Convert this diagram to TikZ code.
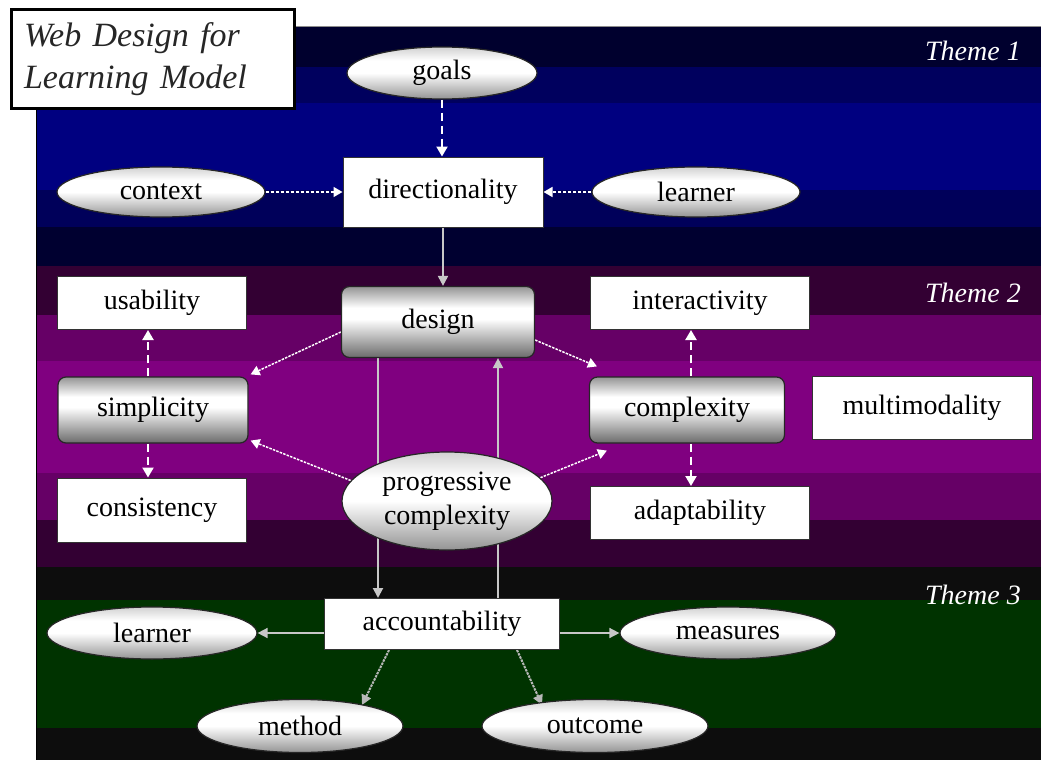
\documentclass[tikz,border=0pt]{standalone}
\usepackage{fontspec}
\setmainfont{Liberation Serif}
\usetikzlibrary{arrows.meta,shapes.geometric}
\pgfdeclarelayer{bg}
\pgfdeclarelayer{conn}
\pgfsetlayers{bg,conn,main}
\definecolor{tA}{HTML}{00002E}
\definecolor{tB}{HTML}{00005E}
\definecolor{tC}{HTML}{000080}
\definecolor{tD}{HTML}{00005A}
\definecolor{tE}{HTML}{000030}
\definecolor{pA}{HTML}{330033}
\definecolor{pB}{HTML}{660066}
\definecolor{pC}{HTML}{800080}
\definecolor{gA}{HTML}{0D0D0D}
\definecolor{gB}{HTML}{003300}
\pgfdeclareverticalshading{boxshade}{100bp}{color(0bp)=(black!58); color(25bp)=(black!58); color(52bp)=(white); color(60bp)=(white); color(75bp)=(black!42); color(100bp)=(black!42)}
\pgfdeclareverticalshading{ellshade}{100bp}{color(0bp)=(black!42); color(25bp)=(black!42); color(50bp)=(white); color(62bp)=(white); color(75bp)=(black!18); color(100bp)=(black!18)}
\tikzset{
  txt/.style={font=\fontsize{28}{34}\selectfont, text=black},
  wbox/.style={rectangle, draw=black!80, line width=1pt, fill=white, inner sep=0pt, txt},
  rbox/.style={rectangle, rounded corners=8pt, draw=black!85, line width=1.2pt, shading=boxshade, inner sep=0pt, txt},
  ell/.style={ellipse, draw=black!85, line width=1.2pt, shading=ellshade, inner sep=0pt, txt},
  dashline/.style={draw=white, line width=2.2pt, dash pattern=on 8pt off 5pt, -{Triangle[length=10pt,width=11pt]}},
  dotline/.style={draw=white, line width=1.6pt, dash pattern=on 3pt off 2pt, -{Triangle[length=9pt,width=10pt]}},
  fineline/.style={draw=white, line width=1.5pt, dash pattern=on 2.5pt off 1.2pt, -{Triangle[length=9pt,width=10pt]}},
  solidline/.style={draw=black!22, line width=2pt, -{Triangle[length=10pt,width=10pt]}},
  grayline/.style={draw=black!28, line width=2pt, dash pattern=on 2.5pt off 1pt, -{Triangle[length=10pt,width=10pt]}},
  theme/.style={font=\fontsize{28}{30}\selectfont\itshape, text=white, anchor=east, inner sep=0pt},
  titlebox/.style={rectangle, draw=black, line width=3pt, fill=white, anchor=north west, align=left,
    font=\fontsize{34}{42}\selectfont\itshape, text=black!85, inner xsep=12pt,
    minimum width=283pt, minimum height=99pt, text width=258pt}
}
\begin{document}
\begin{tikzpicture}[x=1pt,y=-1pt]
\useasboundingbox (0,0) rectangle (1041,760);
\begin{pgfonlayer}{bg}
  \fill[white] (0,0) rectangle (1041,760);
  % Theme 1
  \fill[tA] (36,27) rectangle (1041,67);
  \fill[tB] (36,67) rectangle (1041,103);
  \fill[tC] (36,103) rectangle (1041,190);
  \fill[tD] (36,190) rectangle (1041,227);
  \fill[tE] (36,227) rectangle (1041,266);
  % Theme 2
  \fill[pA] (36,266) rectangle (1041,315);
  \fill[pB] (36,315) rectangle (1041,361);
  \fill[pC] (36,361) rectangle (1041,473);
  \fill[pB] (36,473) rectangle (1041,520);
  \fill[pA] (36,520) rectangle (1041,567);
  % Theme 3
  \fill[gA] (36,567) rectangle (1041,600);
  \fill[gB] (36,600) rectangle (1041,728);
  \fill[gA] (36,728) rectangle (1041,760);
  \draw[black!45, line width=1pt] (36,27) -- (1041,27);
  \draw[black, line width=1pt] (36,27) -- (36,760);
\end{pgfonlayer}

% title and theme labels
\node[titlebox] (title) at (10,8) {Web Design for\\Learning Model};
\node[theme] (th1) at (1021,51) {Theme 1};
\node[theme] (th2) at (1021,293) {Theme 2};
\node[theme] (th3) at (1021,595) {Theme 3};

% Theme 1 nodes
\node[ell, minimum width=190pt, minimum height=52pt] (goals) at (442,73) {goals};
\node[wbox, minimum width=200pt, minimum height=70pt] (dir) at (443,192) {directionality};
\node[ell, minimum width=208pt, minimum height=50pt] (context) at (161,192) {context};
\node[ell, minimum width=208pt, minimum height=50pt] (learnerA) at (696,192) {learner};

% Theme 2 nodes
\node[wbox, minimum width=189pt, minimum height=53pt] (usab) at (152,303) {usability};
\node[rbox, minimum width=193pt, minimum height=71pt] (design) at (438,322) {design};
\node[wbox, minimum width=219pt, minimum height=53pt] (inter) at (700,303) {interactivity};
\node[rbox, minimum width=190pt, minimum height=66pt] (simp) at (153,410) {simplicity};
\node[rbox, minimum width=195pt, minimum height=66pt] (comp) at (687,410) {complexity};
\node[wbox, minimum width=220pt, minimum height=63pt] (multi) at (922,408) {multimodality};
\node[wbox, minimum width=189pt, minimum height=64pt] (cons) at (152,510) {consistency};
\node[wbox, minimum width=219pt, minimum height=53pt] (adapt) at (700,513) {adaptability};
\node[ell, minimum width=210pt, minimum height=98pt, align=center] (prog) at (447,501) {progressive\\complexity};

% Theme 3 nodes
\node[wbox, minimum width=235pt, minimum height=51pt] (acc) at (442,624) {accountability};
\node[ell, minimum width=210pt, minimum height=52pt] (learnerB) at (152,633) {learner};
\node[ell, minimum width=216pt, minimum height=52pt] (meas) at (728,633) {measures};
\node[ell, minimum width=206pt, minimum height=53pt] (method) at (300,726) {method};
\node[ell, minimum width=226pt, minimum height=53pt] (outcome) at (595,726) {outcome};

\begin{pgfonlayer}{conn}
  % Theme 1
  \draw[dashline] (goals.south) -- (goals.south |- dir.north);
  \draw[dotline] (context.east) -- (context.east -| dir.west);
  \draw[dotline] (learnerA.west) -- (learnerA.west -| dir.east);
  \draw[solidline] (dir.south) -- (dir.south |- design.north);
  % Theme 2
  \draw[dashline] ([xshift=-5pt]simp.north) -- ([xshift=-5pt]simp.north |- usab.south);
  \draw[dashline] ([xshift=-5pt]simp.south) -- ([xshift=-5pt]simp.south |- cons.north);
  \draw[dashline] ([xshift=4pt]comp.north) -- ([xshift=4pt]comp.north |- inter.south);
  \draw[dashline] ([xshift=4pt]comp.south) -- ([xshift=4pt]comp.south |- adapt.north);
  \draw[fineline] ([yshift=-10pt]design.west) -- ([xshift=2pt,yshift=2pt]simp.north east);
  \draw[fineline] ([yshift=-18pt]design.east) -- ([xshift=8pt,yshift=10pt]comp.north west);
  \draw[fineline] (prog.168) -- ([xshift=2pt,yshift=3pt]simp.south east);
  \draw[fineline] (prog.14) -- ([xshift=18pt,yshift=-7pt]comp.south west);
  \draw[solidline] ([xshift=-60pt]design.south) -- ([xshift=-60pt]design.south |- acc.north);
  \draw[solidline] ([xshift=60pt]design.south |- acc.north) -- ([xshift=60pt]design.south);
  % Theme 3
  \draw[solidline, line width=1.6pt] (acc.west |- learnerB.east) -- (learnerB.east);
  \draw[solidline, line width=1.6pt] (acc.east |- meas.west) -- (meas.west);
  \draw[grayline] ([xshift=-53pt]acc.south) -- ([xshift=62pt,yshift=21pt]method.center);
  \draw[grayline] ([xshift=75pt]acc.south) -- ([xshift=-53pt,yshift=21pt]outcome.center);
\end{pgfonlayer}
\end{tikzpicture}
\end{document}
